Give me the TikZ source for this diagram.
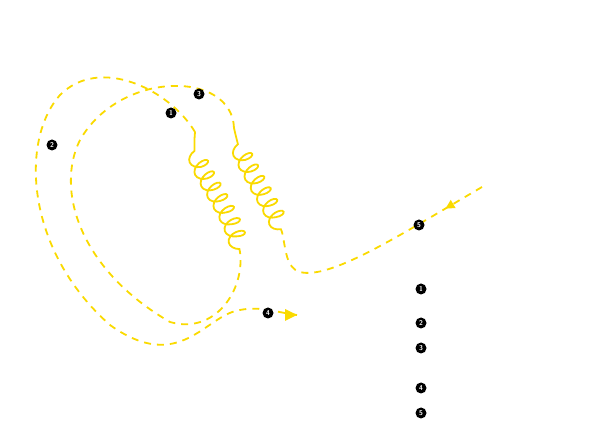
\documentclass[tikz,border=0pt]{standalone}
\usetikzlibrary{decorations.pathmorphing,decorations.markings,arrows.meta}
\definecolor{gy}{RGB}{250,218,0}
\begin{document}
\begin{tikzpicture}[x=1pt,y=-1pt,
  dsh/.style={gy,line width=1.8pt,dash pattern=on 7pt off 6pt},
  gl/.style={gy,line width=1.8pt,decorate,decoration={coil,aspect=0.6,amplitude=9pt,segment length=13pt,pre length=3pt,post length=6pt}},
  mk/.style={circle,fill=black,text=white,inner sep=0pt,minimum size=11pt,font=\sffamily\bfseries\scriptsize},
  arr/.style={postaction={decorate},decoration={markings,mark=at position #1 with {\arrow{Triangle[length=9pt,width=9pt]}}}}]
\useasboundingbox (0,0) rectangle (600,427);
\coordinate (in) at (482,187);
\coordinate (rb) at (282,232);
\coordinate (rt) at (234,128);
\coordinate (lb) at (240,252);
\coordinate (lt) at (195,132);
\coordinate (out) at (297,315);
\draw[dsh,arr=0.17] (in) .. controls (400,235) and (330,280) .. (300,272) .. controls (286,268) and (286,250) .. (rb);
\draw[gl] (rb) .. controls (270,200) and (240,160) .. (rt);
\draw[dsh] (rt) .. controls (232,70) and (120,70) .. (80,140) .. controls (55,190) and (80,270) .. (170,322) .. controls (215,335) and (245,290) .. (lb);
\draw[gl] (lb) .. controls (230,200) and (190,170) .. (lt);
\draw[dsh] (lt) .. controls (170,90) and (100,55) .. (60,95) .. controls (20,140) and (25,250) .. (110,325) .. controls (180,375) and (205,315) .. (240,310) .. controls (260,306) and (275,312) .. (out);
\fill[gy] (out) -- ++(-12,-6) -- ++(0,12) -- cycle;
\node[mk] (m1) at (171,113) {1};
\node[mk] (m2) at (52,145) {2};
\node[mk] (m3) at (199,94) {3};
\node[mk] (m4) at (268,313) {4};
\node[mk] (m5) at (419,225) {5};
\node[mk] (l1) at (421,289) {1};
\node[mk] (l2) at (421,323) {2};
\node[mk] (l3) at (421,348) {3};
\node[mk] (l4) at (421,388) {4};
\node[mk] (l5) at (421,413) {5};
\end{tikzpicture}
\end{document}
